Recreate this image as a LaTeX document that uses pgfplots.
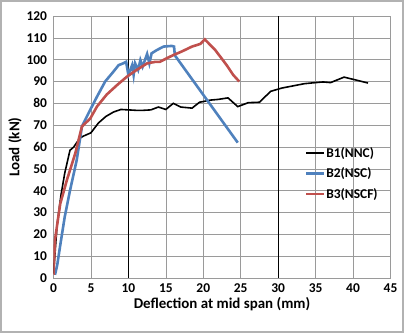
\documentclass[border=0pt]{standalone}
\usepackage{pgfplots}
\pgfplotsset{compat=1.18}
\usepackage{fontspec}
\setmainfont{Carlito}
\definecolor{cblue}{HTML}{4F81BD}
\definecolor{cred}{HTML}{C0504D}
\definecolor{gridgray}{HTML}{9A9A9A}
\begin{document}
\begin{tikzpicture}[x=1bp,y=1bp]
\useasboundingbox (-53.5,-55) rectangle (350.5,278);
\draw[line width=2bp, color=gray!60] (-52.5,-54) rectangle (349.5,277);
\begin{axis}[
  at={(0,0)}, anchor=south west,
  scale only axis, width=337bp, height=262bp,
  xmin=0, xmax=45, ymin=0, ymax=120,
  xtick={0,5,...,45}, ytick={0,10,...,120},
  grid=major,
  major grid style={color=gridgray, line width=0.6bp},
  axis line style={color=gridgray, line width=0.6bp},
  tick style={draw=none},
  /pgf/number format/assume math mode=true,
  ticklabel style={font=\fontsize{13.5}{15}\selectfont\bfseries},
  xticklabel style={yshift=-2bp},
  yticklabel style={xshift=-3bp},
  xlabel={Deflection at mid span (mm)},
  ylabel={Load (kN)},
  label style={font=\fontsize{15}{17}\selectfont\bfseries},
  xlabel style={yshift=2bp},
  ylabel style={yshift=-2bp},
  legend style={at={(rel axis cs:0.745,0.515)}, anchor=north west, draw=none, fill=none,
    font=\fontsize{13.5}{15}\selectfont\bfseries, row sep=5bp, inner xsep=0pt,
    nodes={inner xsep=1bp}},
  legend cell align=left,
  legend image code/.code={\draw[#1] (0bp,0bp) -- (18bp,0bp);},
]
\draw[black, line width=0.7bp] (axis cs:10,0) -- (axis cs:10,120);
\draw[black, line width=0.7bp] (axis cs:30,0) -- (axis cs:30,120);
\addplot[black, line width=1.6bp] coordinates {
(0,2) (0.5,25) (1,38) (1.5,48) (2.2,58.5) (2.7,60) (3.5,64) (4,65) (5,66.5) (6,71) (7,74) (8,76) (9,77.2) (10,77) (11,76.8) (12,76.8) (13,77) (14,78.3) (15,77.2) (16,80) (17,78.3) (18.5,77.8) (19.5,80.5) (21,81.5) (22,81.8) (23.3,82.5) (24.6,78.5) (25,79) (26,80.3) (27.5,80.5) (29,85.5) (30.5,87) (32,88) (33.5,89) (35,89.5) (36,89.8) (37,89.5) (38.8,92) (40,91) (42,89.3)
};
\addlegendentry{B1(NNC)}
\addplot[cblue, line width=2.6bp] coordinates {
(0.2,1.5) (0.5,6) (0.9,15) (1.5,28) (2.2,40) (3.1,54) (3.8,69.4) (4.9,77) (5.8,83) (6.9,90) (8,94.5) (8.7,97.5) (9.3,98.3) (9.7,99) (10,93) (10.5,97.5) (10.7,93) (10.9,98.3) (11.3,95.3) (11.6,99.8) (11.9,96.8) (12.5,102.6) (12.8,98.3) (13.1,102.9) (13.8,104.4) (14.7,106) (15.8,106.3) (16.1,106) (16.2,102) (24.6,62)
};
\addlegendentry{B2(NSC)}
\addplot[cred, line width=2.6bp] coordinates {
(0,1.5) (0.2,17.5) (0.9,34) (1.8,45) (2.9,57) (3.8,69.4) (4.9,73) (5.8,78.5) (7.1,84) (8.5,88.4) (9.8,92.2) (11.1,95.3) (12.5,98.3) (13.6,99) (14.2,99) (15.1,100.6) (16,102.1) (17.1,103.7) (18.5,106) (19.6,107.2) (20.2,109.3) (21.6,104.4) (23.1,97.6) (24,93) (24.8,90)
};
\addlegendentry{B3(NSCF)}
\end{axis}
\end{tikzpicture}
\end{document}
